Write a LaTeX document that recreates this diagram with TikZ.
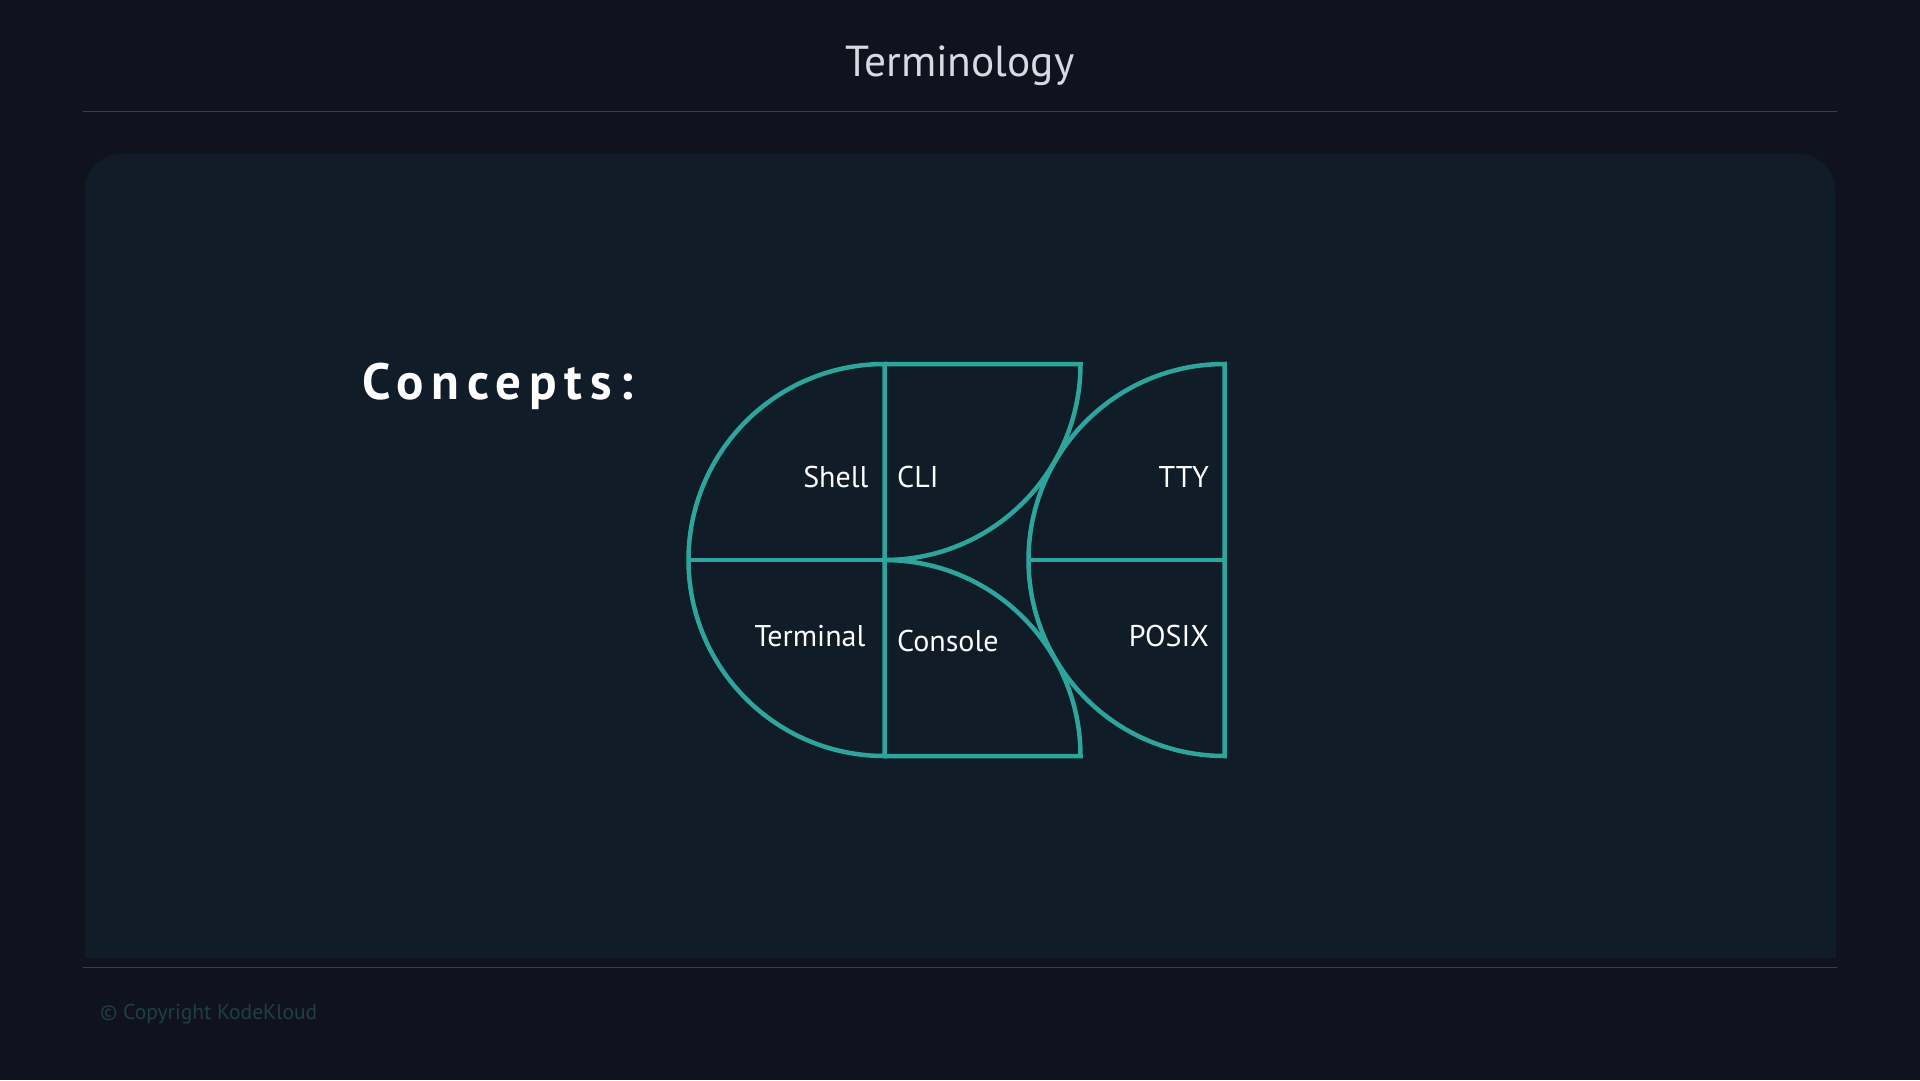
\documentclass[tikz,border=0pt]{standalone}
\usepackage{fontspec}
\setmainfont{PT Sans}
\definecolor{bgc}{HTML}{10131E}
\definecolor{panelc}{HTML}{101C27}
\definecolor{shapec}{HTML}{2EA59C}
\definecolor{rulec}{HTML}{3A3E4A}
\definecolor{titlec}{HTML}{D6DAE2}
\definecolor{copyc}{HTML}{1E3F45}
\begin{document}
\begin{tikzpicture}[x=1pt,y=-1pt,
  shapeline/.style={draw=shapec, line width=4.5pt, line join=miter},
  lbl/.style={text=white, font=\fontsize{30}{36}\selectfont, inner sep=0pt},
  hrule/.style={draw=rulec, line width=1.5pt}]
\fill[bgc] (0,0) rectangle (1920,1080);
\useasboundingbox (0,0) rectangle (1920,1080);
% panel
\fill[panelc, rounded corners=37pt] (84.5,154) rectangle (1835.6,600);
\fill[panelc] (84.5,400) rectangle (1835.6,957.6);
% rules
\coordinate (h1) at (83,111.5);
\coordinate (h2) at (1837,111.5);
\coordinate (f1) at (83,967.5);
\coordinate (f2) at (1837,967.5);
\draw[hrule] (h1) -- (h2);
\draw[hrule] (f1) -- (f2);
% title
\node[inner sep=0pt, anchor=base, text=titlec, font=\fontsize{43.4}{50}\selectfont] (title) at (960,76) {Terminology};
% concepts
\node[inner sep=0pt, anchor=base west, text=white, font=\fontsize{51}{60}\selectfont\bfseries\addfontfeatures{LetterSpace=15}] (concepts) at (362,399) {Concepts:};
% copyright
\node[inner sep=0pt, anchor=base west, text=copyc, font=\fontsize{21.5}{26}\selectfont] (copy) at (100,1019) {\textcopyright{} Copyright KodeKloud};
% shapes
\draw[shapeline] (884.5,364) arc[start angle=90,end angle=270,radius=196pt] -- cycle;
\draw[shapeline] (688.5,560) -- (884.5,560);
\draw[shapeline] (884.5,364) -- (1080.5,364) arc[start angle=0,end angle=-90,radius=196pt];
\draw[shapeline] (884.5,560) arc[start angle=90,end angle=0,radius=196pt] -- (884.5,756);
\draw[shapeline] (1224.5,364) arc[start angle=90,end angle=270,radius=196pt] -- cycle;
\draw[shapeline] (1028.5,560) -- (1224.5,560);
% labels
\node[lbl, anchor=base east] (shell) at (868.6,487) {Shell};
\node[lbl, anchor=base west] (cli) at (897,487) {CLI};
\node[lbl, anchor=base east] (tty) at (1209,487) {TTY};
\node[lbl, anchor=base east] (terminal) at (865.5,646.5) {Terminal};
\node[lbl, anchor=base west] (console) at (897,651) {Console};
\node[lbl, anchor=base east] (posix) at (1209,646.5) {POSIX};
\end{tikzpicture}
\end{document}
